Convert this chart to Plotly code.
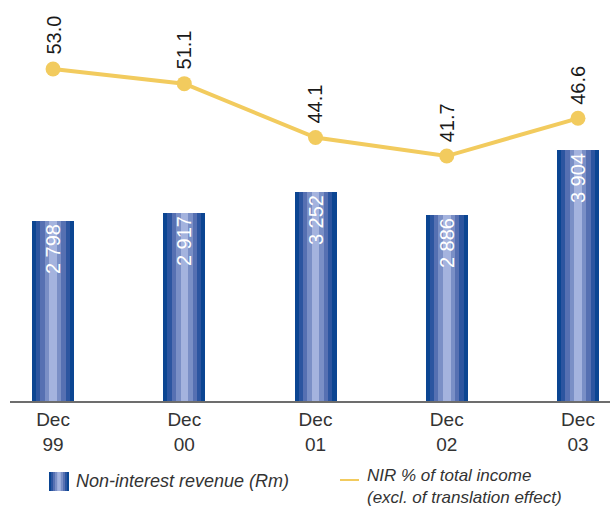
import plotly.graph_objects as go

categories = ["Dec<br>99", "Dec<br>00", "Dec<br>01", "Dec<br>02", "Dec<br>03"]
nir_revenue = [2798, 2917, 3252, 2886, 3904]
nir_revenue_labels = ["2 798", "2 917", "3 252", "2 886", "3 904"]
nir_pct = [53.0, 51.1, 44.1, 41.7, 46.6]
nir_pct_labels = ["53.0", "51.1", "44.1", "41.7", "46.6"]
legend_bar_text = "Non-interest revenue (Rm)"
legend_line_text = ["NIR % of total income", "(excl. of translation effect)"]

FONT = "Liberation Sans, Arial, sans-serif"
BAR_W = 0.32
layers = [(1.0, "#0b4592"), (0.8, "#2c55a0"), (0.6, "#5670b2"), (0.4, "#7a8fc6"), (0.18, "#a4b3de")]
YELLOW = "#f2cb5e"
TEXT_COL = "#333333"

W, H = 610, 508
ML, MR, MT, MB = 10, 0, 0, 107
PW, PH = W - ML - MR, H - MT - MB


def px_x(px):
    return (px - ML) / PW


def px_y(py):
    return (MT + PH - py) / PH


fig = go.Figure()
for i, (frac, col) in enumerate(layers):
    fig.add_trace(go.Bar(
        x=categories, y=nir_revenue, width=BAR_W * frac,
        marker=dict(color=col, line=dict(width=0)),
        name=legend_bar_text, showlegend=False, hoverinfo="skip",
    ))
# transparent top layer carrying the value labels
fig.add_trace(go.Bar(
    x=categories, y=nir_revenue, width=BAR_W,
    marker=dict(color="rgba(0,0,0,0)", line=dict(width=0)),
    text=nir_revenue_labels, textposition="inside", insidetextanchor="end",
    textangle=-90, textfont=dict(family=FONT, size=20, color="white"),
    showlegend=False, hoverinfo="skip",
))
fig.add_trace(go.Scatter(
    x=categories, y=nir_pct, yaxis="y2", mode="lines+markers",
    line=dict(color=YELLOW, width=4),
    marker=dict(color=YELLOW, size=15),
    name=" ".join(legend_line_text), showlegend=False,
))
for c, v, t in zip(categories, nir_pct, nir_pct_labels):
    fig.add_annotation(x=c, y=v, xref="x", yref="y2", text=t, textangle=-90,
                       showarrow=False, yanchor="bottom", yshift=12,
                       font=dict(family=FONT, size=20, color="#1a1a1a"))

# ---- legend (drawn manually to match the reference layout) ----
icon_cx, icon_w, icon_top, icon_bot = 59, 20, 472, 491
for frac, col in layers:
    hw = icon_w * frac / 2
    fig.add_shape(type="rect", xref="paper", yref="paper",
                  x0=px_x(icon_cx - hw), x1=px_x(icon_cx + hw),
                  y0=px_y(icon_bot), y1=px_y(icon_top),
                  fillcolor=col, line=dict(width=0), layer="above")
fig.add_annotation(xref="paper", yref="paper", x=px_x(74), y=px_y(481),
                   xanchor="left", yanchor="middle", showarrow=False,
                   text=legend_bar_text,
                   font=dict(family=FONT, size=18, color=TEXT_COL, style="italic"))
fig.add_shape(type="line", xref="paper", yref="paper",
              x0=px_x(340), x1=px_x(359), y0=px_y(480), y1=px_y(480),
              line=dict(color=YELLOW, width=2))
fig.add_annotation(xref="paper", yref="paper", x=px_x(366), y=px_y(465),
                   xanchor="left", yanchor="top", align="left", showarrow=False,
                   borderpad=0,
                   text="<br>".join(legend_line_text),
                   font=dict(family=FONT, size=17, color=TEXT_COL, style="italic"))

fig.update_layout(
    width=W, height=H,
    margin=dict(l=ML, r=MR, t=MT, b=MB),
    paper_bgcolor="white", plot_bgcolor="white",
    barmode="overlay", bargap=0, showlegend=False,
    xaxis=dict(range=[-0.328, 4.244], showline=True, linecolor="#6d6d6d", linewidth=2,
               showgrid=False, zeroline=False, ticks="",
               tickfont=dict(family=FONT, size=19, color=TEXT_COL)),
    yaxis=dict(range=[0, 6236], visible=False, showgrid=False, zeroline=False),
    yaxis2=dict(range=[9.9, 61.96], overlaying="y", visible=False, showgrid=False,
                zeroline=False),
)
fig.write_html("out.html", config={"displayModeBar": False},
               post_script="document.body.style.margin='0';")
